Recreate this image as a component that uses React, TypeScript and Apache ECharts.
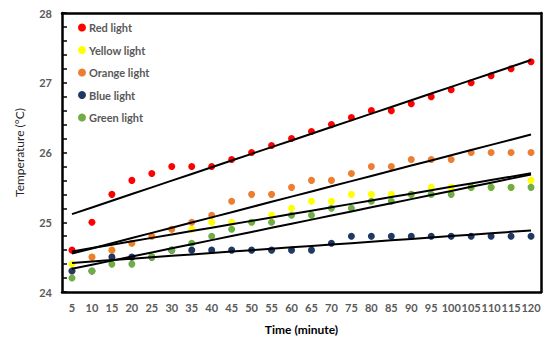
import React, { useEffect, useRef } from "react";
import * as echarts from "echarts";

const minutes = [5, 10, 15, 20, 25, 30, 35, 40, 45, 50, 55, 60, 65, 70, 75, 80, 85, 90, 95, 100, 105, 110, 115, 120];
const redLight = [24.6, 25.0, 25.4, 25.6, 25.7, 25.8, 25.8, 25.8, 25.9, 26.0, 26.1, 26.2, 26.3, 26.4, 26.5, 26.6, 26.6, 26.7, 26.8, 26.9, 27.0, 27.1, 27.2, 27.3];
const yellowLight = [24.4, 24.5, 24.6, 24.7, 24.8, 24.9, 24.9, 25.0, 25.0, 25.0, 25.1, 25.2, 25.3, 25.3, 25.4, 25.4, 25.4, 25.4, 25.5, 25.5, 25.5, 25.5, 25.5, 25.6];
const orangeLight = [24.3, 24.5, 24.6, 24.7, 24.8, 24.9, 25.0, 25.1, 25.3, 25.4, 25.4, 25.5, 25.6, 25.6, 25.7, 25.8, 25.8, 25.9, 25.9, 25.9, 26.0, 26.0, 26.0, 26.0];
const blueLight = [24.3, 24.3, 24.5, 24.5, 24.5, 24.6, 24.6, 24.6, 24.6, 24.6, 24.6, 24.6, 24.6, 24.7, 24.8, 24.8, 24.8, 24.8, 24.8, 24.8, 24.8, 24.8, 24.8, 24.8];
const greenLight = [24.2, 24.3, 24.4, 24.4, 24.5, 24.6, 24.7, 24.8, 24.9, 25.0, 25.0, 25.1, 25.1, 25.2, 25.2, 25.3, 25.3, 25.4, 25.4, 25.4, 25.5, 25.5, 25.5, 25.5];

const seriesNames = ["Red light", "Yellow light", "Orange light", "Blue light", "Green light"];
const seriesColors = ["#FF0000", "#FFFF00", "#ED7D31", "#203864", "#70AD47"];
const seriesData = [redLight, yellowLight, orangeLight, blueLight, greenLight];

const FONT = "Lato, 'Liberation Sans', sans-serif";

function linearFit(xs: number[], ys: number[]): number[] {
  const n = xs.length;
  const mx = xs.reduce((a, b) => a + b, 0) / n;
  const my = ys.reduce((a, b) => a + b, 0) / n;
  let sxy = 0;
  let sxx = 0;
  for (let i = 0; i < n; i++) {
    sxy += (xs[i] - mx) * (ys[i] - my);
    sxx += (xs[i] - mx) * (xs[i] - mx);
  }
  const b = sxy / sxx;
  const a = my - b * mx;
  return xs.map((x) => a + b * x);
}

export default function App() {
  const ref = useRef<HTMLDivElement>(null);
  useEffect(() => {
    if (!ref.current) return;
    const chart = echarts.init(ref.current, null, { renderer: "svg" });
    const scatter = seriesNames.map((name, i) => ({
      name,
      type: "scatter",
      data: seriesData[i],
      symbol: "circle",
      symbolSize: 7,
      itemStyle: { color: seriesColors[i], opacity: 1 },
      z: 2,
    }));
    const trends = seriesNames.map((name, i) => ({
      name: name + " trend",
      type: "line",
      data: linearFit(minutes, seriesData[i]),
      showSymbol: false,
      symbol: "none",
      lineStyle: { color: "#000", width: 2 },
      z: 3,
    }));
    const labelStyle = {
      fontFamily: FONT,
      fontSize: 11,
      fontWeight: "bold",
      color: "#595959",
    };
    chart.setOption({
      animation: false,
      textStyle: { fontFamily: FONT },
      grid: {
        left: 62,
        right: 6,
        top: 13,
        bottom: 45,
      },
      legend: {
        data: seriesNames,
        orient: "vertical",
        left: 73,
        top: 17,
        itemWidth: 8,
        itemHeight: 8,
        itemGap: 11.5,
        icon: "circle",
        textStyle: { ...labelStyle, padding: [0, 0, 0, -2] },
      },
      xAxis: [
        {
          type: "category",
          data: minutes.map(String),
          boundaryGap: true,
          axisLine: { lineStyle: { color: "#000", width: 2.5 } },
          axisTick: { show: false },
          axisLabel: { interval: 0, margin: 10, ...labelStyle },
          name: "Time (minute)",
          nameLocation: "middle",
          nameGap: 31,
          nameTextStyle: { fontFamily: FONT, fontSize: 12, fontWeight: "bold", color: "#000" },
          splitLine: { show: false },
        },
        {
          type: "category",
          position: "top",
          data: minutes.map(String),
          axisLine: { show: true, lineStyle: { color: "#000", width: 2.5 } },
          axisTick: { show: false },
          axisLabel: { show: false },
          splitLine: { show: false },
        },
      ],
      yAxis: [
        {
          type: "value",
          min: 24,
          max: 28,
          interval: 1,
          axisLine: { show: true, lineStyle: { color: "#000", width: 2.5 } },
          axisTick: { show: true, inside: true, length: 5, lineStyle: { color: "#000", width: 1.5 } },
          minorTick: { show: true, splitNumber: 5, length: 5, lineStyle: { color: "#000", width: 1.5 } },
          axisLabel: { margin: 10, ...labelStyle },
          splitLine: { show: false },
          name: "Temperature (°C)",
          nameLocation: "middle",
          nameGap: 37,
          nameTextStyle: { fontFamily: FONT, fontSize: 12, color: "#262626" },
        },
        {
          type: "value",
          position: "right",
          min: 24,
          max: 28,
          interval: 1,
          axisLine: { show: true, lineStyle: { color: "#000", width: 2.5 } },
          axisTick: { show: false },
          axisLabel: { show: false },
          splitLine: { show: false },
        },
      ],
      series: [...scatter, ...trends],
    });
    return () => chart.dispose();
  }, []);
  return (
    <div
      ref={ref}
      style={{ position: "absolute", left: 0, top: 0, width: 547, height: 340 }}
    />
  );
}
